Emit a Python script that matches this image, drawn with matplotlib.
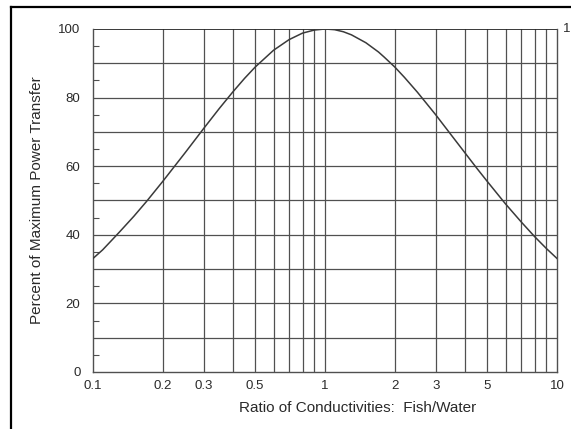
import matplotlib
matplotlib.use("Agg")
import matplotlib.pyplot as plt
from matplotlib.lines import Line2D
from matplotlib.ticker import FixedLocator, NullFormatter

# Conductivity ratio (fish / water) and percent of maximum power transfer
ratio = [0.1, 0.11, 0.12, 0.13, 0.15, 0.17, 0.2, 0.25, 0.3, 0.35, 0.4, 0.45,
         0.5, 0.6, 0.7, 0.8, 0.9, 1.0, 1.1, 1.2, 1.3, 1.5, 1.7, 1.8, 2.0,
         2.2, 2.5, 3.0, 3.5, 4.0, 4.5, 5.0, 6.0, 7.0, 8.0, 9.0, 10.0]
percent = [33.1, 35.6, 38.3, 40.8, 45.4, 49.7, 55.6, 64.0, 71.0, 76.8, 81.6, 85.6,
           88.9, 93.8, 96.9, 98.8, 99.7, 100.0, 99.8, 99.2, 98.3, 96.0, 93.3, 91.8, 88.9,
           85.9, 81.6, 75.0, 69.1, 64.0, 59.5, 55.6, 49.0, 43.8, 39.5, 36.0, 33.1]

x_tick_values = [0.1, 0.2, 0.3, 0.5, 1, 2, 3, 5, 10]
x_tick_labels = ["0.1", "0.2", "0.3", "0.5", "1", "2", "3", "5", "10"]
y_tick_values = [0, 20, 40, 60, 80, 100]

plt.rcParams["font.family"] = ["Liberation Sans", "DejaVu Sans"]
ink = "#2a2a2a"
grid = "#505050"

fig = plt.figure(figsize=(5.71, 4.29), dpi=100)
W, H = 571, 429
ax = fig.add_axes([93 / W, 1 - 372 / H, (557 - 93) / W, (372 - 29) / H])

ax.set_xscale("log")
ax.set_xlim(0.1, 10)
ax.set_ylim(0, 100)

# vertical grid at every 1-9 multiple of each decade
vgrid = [m * 10.0 ** e for e in (-1, 0) for m in range(1, 10)] + [10.0]
for v in vgrid[1:-1]:
    ax.axvline(v, color=grid, lw=0.9, zorder=1)
for h in range(10, 100, 10):
    ax.axhline(h, color=grid, lw=0.9, zorder=1)
ax.axhline(100, color=ink, lw=1.3, zorder=2)

ax.plot(ratio, percent, color="#3a3a3a", lw=1.1, zorder=3)

ax.xaxis.set_major_locator(FixedLocator(x_tick_values))
ax.xaxis.set_minor_locator(FixedLocator([]))
ax.set_xticklabels(x_tick_labels)
ax.xaxis.set_minor_formatter(NullFormatter())
ax.tick_params(axis="x", length=0, pad=6, labelsize=9.5, labelcolor=ink)

ax.yaxis.set_major_locator(FixedLocator(y_tick_values))
ax.yaxis.set_minor_locator(FixedLocator(list(range(5, 100, 10))))
ax.tick_params(axis="y", which="major", length=0, pad=9, labelsize=9.5, labelcolor=ink)
ax.tick_params(axis="y", which="minor", direction="in", length=4, width=0.8, color=grid)

ax.spines["top"].set_visible(False)
for side in ("left", "bottom", "right"):
    ax.spines[side].set_color(grid)
    ax.spines[side].set_linewidth(1.0)

ax.set_xlabel("Ratio of Conductivities:  Fish/Water", fontsize=11, color=ink, labelpad=8)
ax.xaxis.set_label_coords(0.57, -0.085)
ax.set_ylabel("Percent of Maximum Power Transfer", fontsize=11, color=ink, labelpad=10)

ax.text(1.012, 1.0, "1", transform=ax.transAxes, fontsize=9.5, color=ink,
        ha="left", va="center")

# outer frame lines along the top and left edges
fig.add_artist(Line2D([11 / W, 11 / W], [0, 1 - 7 / H], color="black", lw=1.6,
                      transform=fig.transFigure))
fig.add_artist(Line2D([11 / W, 1], [1 - 7 / H, 1 - 7 / H], color="black", lw=1.6,
                      transform=fig.transFigure))

fig.savefig("out.png", dpi=100, facecolor="white")
